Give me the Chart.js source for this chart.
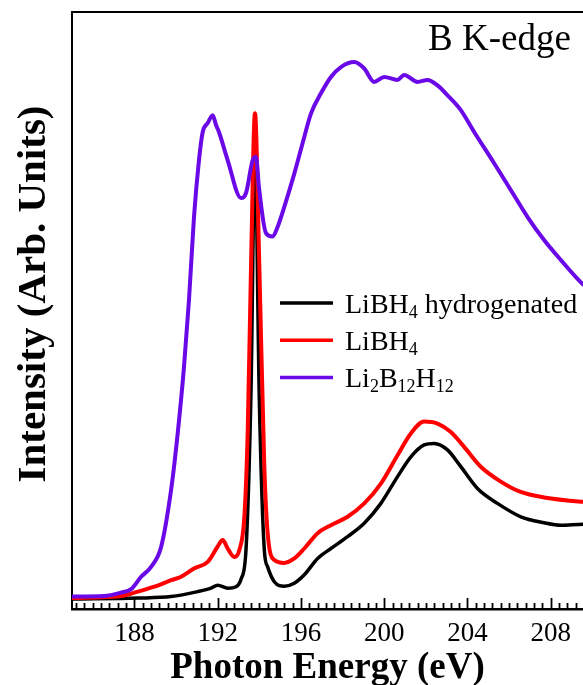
<!DOCTYPE html>
<html>
<head>
<meta charset="utf-8">
<script src="https://cdn.jsdelivr.net/npm/chart.js@4/dist/chart.umd.min.js"></script>
<style>
  html, body { margin: 0; padding: 0; background: #fff; }
</style>
</head>
<body>
<canvas id="chart" width="583" height="685"></canvas>
<script>
// B K-edge XAS spectra (intensity in arbitrary units)
var xTicks = [188, 192, 196, 200, 204, 208];
var seriesLabels = ['LiBH4 hydrogenated', 'LiBH4', 'Li2B12H12'];
var seriesColors = ['#000000', '#ff0000', '#6a08e8'];

var energyBlack = [185.0, 188.16, 189.76, 191.04, 191.68, 192.00, 192.48, 192.88, 193.12, 193.36,
  193.60, 193.79, 194.00, 194.24, 194.40, 194.72, 195.20, 195.68, 196.16, 196.80,
  197.44, 198.24, 199.04, 199.84, 200.64, 201.28, 201.92, 202.40, 203.04, 203.68,
  204.48, 205.44, 206.56, 207.68, 208.48, 209.59, 210.0];
var intensityBlack = [0.020, 0.022, 0.025, 0.035, 0.042, 0.048, 0.042, 0.045, 0.060, 0.120,
  0.440, 0.929, 0.421, 0.119, 0.085, 0.055, 0.046, 0.052, 0.069, 0.102,
  0.122, 0.146, 0.173, 0.213, 0.267, 0.307, 0.331, 0.334, 0.321, 0.287,
  0.243, 0.213, 0.186, 0.174, 0.169, 0.171, 0.171];

var energyRed = [185.0, 187.36, 188.16, 188.96, 189.76, 190.24, 190.88, 191.52, 192.00, 192.24,
  192.48, 192.80, 193.04, 193.28, 193.44, 193.60, 193.79, 194.00, 194.24, 194.40,
  194.72, 195.20, 195.68, 196.16, 196.80, 197.44, 198.24, 199.04, 199.84, 200.64,
  201.28, 201.92, 202.56, 203.20, 203.84, 204.64, 205.60, 206.56, 207.68, 209.59, 210.0];
var intensityRed = [0.022, 0.026, 0.035, 0.045, 0.058, 0.065, 0.082, 0.095, 0.126, 0.139,
  0.122, 0.105, 0.119, 0.186, 0.355, 0.690, 1.000, 0.690, 0.287, 0.153,
  0.099, 0.093, 0.102, 0.122, 0.153, 0.169, 0.186, 0.213, 0.253, 0.310,
  0.354, 0.378, 0.374, 0.357, 0.327, 0.287, 0.257, 0.236, 0.225, 0.216, 0.215];

var energyPurple = [185.0, 186.54, 187.36, 187.84, 188.32, 188.80, 189.28, 189.76, 190.08, 190.38,
  190.62, 190.86, 191.10, 191.28, 191.52, 191.76, 191.92, 192.06, 192.48, 193.12,
  193.36, 193.68, 193.84, 193.98, 194.32, 194.64, 194.88, 195.20, 195.68, 196.16,
  196.48, 196.96, 197.44, 197.92, 198.56, 199.04, 199.52, 200.00, 200.64, 200.96,
  201.60, 202.08, 202.56, 203.04, 203.68, 204.32, 205.28, 206.08, 206.88, 207.68,
  208.48, 209.59, 210.0];
var intensityPurple = [0.025, 0.026, 0.033, 0.040, 0.065, 0.085, 0.125, 0.240, 0.355, 0.488,
  0.623, 0.790, 0.905, 0.962, 0.980, 0.996, 0.976, 0.962, 0.905, 0.829,
  0.839, 0.905, 0.912, 0.851, 0.758, 0.751, 0.771, 0.811, 0.878, 0.952,
  0.999, 1.040, 1.073, 1.093, 1.103, 1.090, 1.063, 1.073, 1.067, 1.077,
  1.063, 1.067, 1.056, 1.036, 1.006, 0.962, 0.899, 0.845, 0.791, 0.744,
  0.704, 0.653, 0.640];

var X_MIN = 185, X_MAX = 209.55, Y_MIN = 0, Y_MAX = 1.204;
var MINOR_START = 185.2, MINOR_STEP = 0.4;
var SERIF = '"Liberation Serif", "Times New Roman", serif';

var toPoints = function(xs, ys) {
    return xs.map(function(x, i) { return { x: x, y: ys[i] }; });
};

var createDataItem = function(label, points, color, width, order) {
    return {
        label: label,
        data: points,
        borderColor: color,
        backgroundColor: color,
        borderWidth: width,
        pointRadius: 0,
        fill: false,
        cubicInterpolationMode: 'monotone',
        order: order
    };
};

// draws text with every run of digits as a subscript (LiBH4 -> LiBH₄)
var drawChem = function(ctx, text, x, y) {
    text.split(/(\d+)/).forEach(function(part) {
        if (!part) return;
        var sub = /^\d+$/.test(part);
        ctx.font = (sub ? '18px ' : '28px ') + SERIF;
        ctx.fillText(part, x, sub ? y + 5 : y);
        x += ctx.measureText(part).width;
    });
};

var decorations = {
    id: 'decorations',
    afterDatasetsDraw: function(chart) {
        var ctx = chart.ctx, xs = chart.scales.x, area = chart.chartArea;
        ctx.save();

        // inward ticks on the energy axis
        ctx.strokeStyle = '#000';
        ctx.lineWidth = 1.8;
        for (var i = 0; ; i++) {
            var v = MINOR_START + i * MINOR_STEP;
            if (v > X_MAX) break;
            var q = (v - 188) / 4;
            var major = Math.abs(q - Math.round(q)) < 1e-6;
            var px = Math.round(xs.getPixelForValue(v)) + 0.5;
            ctx.beginPath();
            ctx.moveTo(px, area.bottom);
            ctx.lineTo(px, area.bottom - (major ? 11 : 6));
            ctx.stroke();
        }

        // y axis title
        ctx.fillStyle = '#000';
        ctx.save();
        ctx.translate(34, 294);
        ctx.rotate(-Math.PI / 2);
        ctx.font = 'bold 41px ' + SERIF;
        ctx.textAlign = 'center';
        ctx.textBaseline = 'middle';
        ctx.fillText('Intensity (Arb. Units)', 0, 0);
        ctx.restore();

        // edge label
        ctx.font = '37px ' + SERIF;
        ctx.textAlign = 'left';
        ctx.textBaseline = 'alphabetic';
        ctx.fillText('B K-edge', 428, 50);

        // legend
        chart.data.datasets.forEach(function(ds, k) {
            var ly = 303 + k * 37.3;
            ctx.strokeStyle = ds.borderColor;
            ctx.lineWidth = 3.5;
            ctx.beginPath();
            ctx.moveTo(280, ly);
            ctx.lineTo(333, ly);
            ctx.stroke();
            ctx.fillStyle = '#000';
            drawChem(ctx, ds.label, 345, ly + 9.5);
        });

        ctx.restore();
    }
};

const ctx = document.getElementById('chart');

new Chart(ctx, {
    type: 'line',
    data: {
        datasets: [
            createDataItem(seriesLabels[0], toPoints(energyBlack, intensityBlack), seriesColors[0], 3.5, 3),
            createDataItem(seriesLabels[1], toPoints(energyRed, intensityRed), seriesColors[1], 4, 2),
            createDataItem(seriesLabels[2], toPoints(energyPurple, intensityPurple), seriesColors[2], 4, 1)
        ]
    },
    options: {
        responsive: false,
        animation: false,
        devicePixelRatio: 1,
        layout: { padding: 0 },
        plugins: {
            legend: { display: false },
            tooltip: { enabled: false }
        },
        scales: {
            x: {
                type: 'linear',
                position: 'bottom',
                min: X_MIN,
                max: X_MAX,
                afterFit: function(s) { s.height = 76; },
                afterBuildTicks: function(s) { s.ticks = xTicks.map(function(v) { return { value: v }; }); },
                grid: { display: false, drawTicks: false },
                border: { color: '#000', width: 2.5 },
                ticks: {
                    color: '#000',
                    padding: 9,
                    maxRotation: 0,
                    autoSkip: false,
                    font: { family: SERIF, size: 27 },
                    callback: function(v) { return String(v); }
                },
                title: {
                    display: true,
                    text: 'Photon Energy (eV)',
                    color: '#000',
                    font: { family: SERIF, size: 37, weight: 'bold', lineHeight: 1 },
                    padding: { top: 0, bottom: -2 }
                }
            },
            xTop: {
                type: 'linear',
                position: 'top',
                min: X_MIN,
                max: X_MAX,
                afterFit: function(s) { s.height = 12; },
                grid: { display: false, drawTicks: false },
                border: { color: '#000', width: 2 },
                ticks: { display: false }
            },
            y: {
                type: 'linear',
                min: Y_MIN,
                max: Y_MAX,
                afterFit: function(s) { s.width = 72; },
                grid: { display: false, drawTicks: false },
                border: { color: '#000', width: 2 },
                ticks: { display: false }
            }
        }
    },
    plugins: [decorations]
});
</script>
</body>
</html>
